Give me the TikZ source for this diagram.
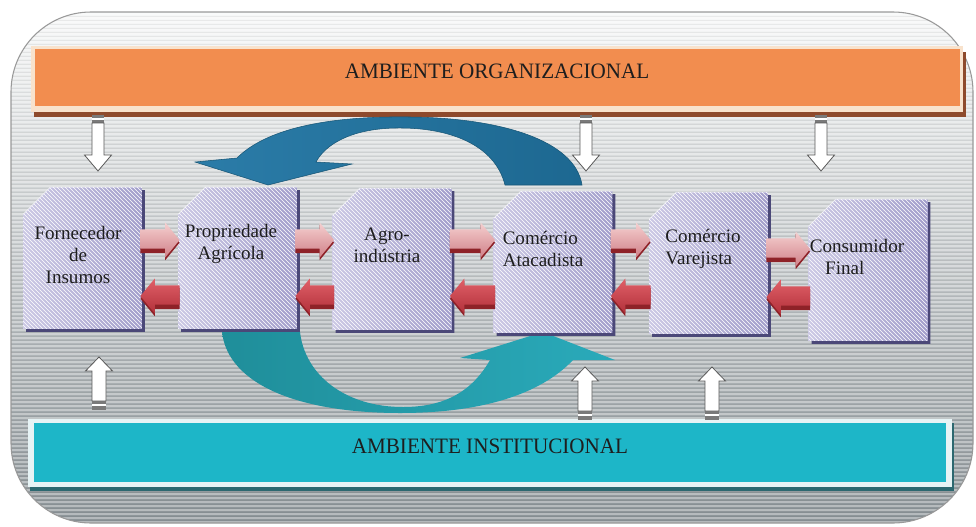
\documentclass[tikz,border=0pt]{standalone}
\usepackage{fontspec}
\setmainfont{Liberation Serif}
\newfontfamily\condserif[FakeStretch=0.96]{Liberation Serif}
\usetikzlibrary{calc,patterns}

\definecolor{bgtop}{HTML}{F7F8F8}
\definecolor{bgmid}{HTML}{C9CDCF}
\definecolor{bgbot}{HTML}{8C9498}
\definecolor{orgcol}{HTML}{F28D4F}
\definecolor{cream}{HTML}{F8E2CC}
\definecolor{orgshadow}{HTML}{8E4A2C}
\definecolor{instcol}{HTML}{1DB6C8}
\definecolor{instborder}{HTML}{E6F3F5}
\definecolor{instshadow}{HTML}{2C6870}
\definecolor{boxL}{HTML}{CBC8E4}
\definecolor{boxR}{HTML}{A29ECB}
\definecolor{boxshadow}{HTML}{4B4878}
\definecolor{txtcol}{HTML}{1E1E1E}
\definecolor{rtop}{HTML}{F5D0D0}
\definecolor{rbot}{HTML}{D08088}
\definecolor{rdark}{HTML}{8E2228}
\definecolor{ltop}{HTML}{E06068}
\definecolor{lbot}{HTML}{B2303A}
\definecolor{blueA}{HTML}{2B7CA8}
\definecolor{blueB}{HTML}{1D6891}
\definecolor{blueedge}{HTML}{175676}
\definecolor{tealA}{HTML}{1F8E9A}
\definecolor{tealB}{HTML}{2AAABA}
\definecolor{capgray}{HTML}{7A7A7A}

\tikzset{
  boxnode/.style={rectangle, minimum width=88.5pt, minimum height=105.75pt, inner sep=0pt},
  lbl/.style={font=\fontsize{14.3}{16.8}\selectfont, text=txtcol, align=center, inner sep=0pt},
  barlbl/.style={font=\condserif\fontsize{16.5}{18}\selectfont, text=txtcol, inner sep=0pt},
  rfill/.style={top color=rtop, bottom color=rbot},
  lfill/.style={top color=ltop, bottom color=lbot},
  darkfill/.style={fill=rdark},
  warrow/.style={fill=white, draw=black!65, line width=0.6pt, line join=miter},
}

% chamfered box drawn from the node's anchors
\newcommand\drawbox[1]{%
  \fill[boxshadow] ($(#1.south west)+(3,3)$) -- ($(#1.north west)+(3,30)$) -- ($(#1.north west)+(30,3)$)
     -- ($(#1.north east)+(3,3)$) -- ($(#1.south east)+(3,3)$) -- cycle;
  \shade[left color=boxL, right color=boxR] (#1.south west) -- ($(#1.north west)+(0,27)$) -- ($(#1.north west)+(27,0)$)
     -- (#1.north east) -- (#1.south east) -- cycle;
  \fill[pattern=north west lines, pattern color=white, fill opacity=0.08] (#1.south west) -- ($(#1.north west)+(0,27)$) -- ($(#1.north west)+(27,0)$)
     -- (#1.north east) -- (#1.south east) -- cycle;
  \draw[white, opacity=0.6, line width=0.6pt] ($(#1.north west)+(0,27)$) -- ($(#1.north west)+(27,0)$) -- (#1.north east);
}
% right-pointing block arrow between two boxes at height #3 (px)
\newcommand\rblock[3]{%
  \path[darkfill] let \p1=(#1.east), \p2=(#2.west), \p3=(0,#3) in
   (\x1-1pt,\y3+5.9pt) -- (\x2-9.75pt,\y3+5.9pt) -- (\x2-9.75pt,\y3+11.1pt) -- (\x2+1pt,\y3-2pt)
   -- (\x2-9.75pt,\y3-15.1pt) -- (\x2-9.75pt,\y3-9.9pt) -- (\x1-1pt,\y3-9.9pt) -- cycle;
  \path[rfill] let \p1=(#1.east), \p2=(#2.west), \p3=(0,#3) in
   (\x1-1pt,\y3+7.9pt) -- (\x2-9.75pt,\y3+7.9pt) -- (\x2-9.75pt,\y3+13.1pt) -- (\x2+1pt,\y3)
   -- (\x2-9.75pt,\y3-13.1pt) -- (\x2-9.75pt,\y3-6.4pt) -- (\x1-1pt,\y3-6.4pt) -- cycle;
}
% left-pointing block arrow
\newcommand\lblock[3]{%
  \path[fill=rdark] let \p1=(#1.east), \p2=(#2.west), \p3=(0,#3) in
   (\x2+1pt,\y3+5.9pt) -- (\x1+9.75pt,\y3+5.9pt) -- (\x1+9.75pt,\y3+11.1pt) -- (\x1-1pt,\y3-2pt)
   -- (\x1+9.75pt,\y3-15.1pt) -- (\x1+9.75pt,\y3-9.9pt) -- (\x2+1pt,\y3-9.9pt) -- cycle;
  \path[lfill] let \p1=(#1.east), \p2=(#2.west), \p3=(0,#3) in
   (\x2+1pt,\y3+7.9pt) -- (\x1+9.75pt,\y3+7.9pt) -- (\x1+9.75pt,\y3+13.1pt) -- (\x1-1pt,\y3)
   -- (\x1+9.75pt,\y3-13.1pt) -- (\x1+9.75pt,\y3-6.4pt) -- (\x2+1pt,\y3-6.4pt) -- cycle;
}
% white down arrow: x, ytop, ytip (px)
\newcommand\downarr[3]{%
  \fill[capgray] (#1-6,#2) rectangle (#1+6,#2+8);
  \draw[white, line width=0.9pt] (#1-6,#2+4) -- (#1+6,#2+4);
  \filldraw[warrow] (#1-6,#2+8) -- (#1+6,#2+8) -- (#1+6,#3-16) -- (#1+13.5,#3-16) -- (#1,#3)
     -- (#1-13.5,#3-16) -- (#1-6,#3-16) -- cycle;
}
% white up arrow: x, ybottom, ytip (px)
\newcommand\uparr[3]{%
  \fill[capgray] (#1-7,#2) rectangle (#1+7,#2-9);
  \draw[white, line width=0.9pt] (#1-7,#2-5) -- (#1+7,#2-5);
  \filldraw[warrow] (#1-7,#2-9) -- (#1+7,#2-9) -- (#1+7,#3+14) -- (#1+13.5,#3+14) -- (#1,#3)
     -- (#1-13.5,#3+14) -- (#1-7,#3+14) -- cycle;
}

\begin{document}
\begin{tikzpicture}[x=0.75pt, y=-0.75pt]
\useasboundingbox (0,0) rectangle (976,526);

% ---------- background panel ----------
\shade[top color=bgtop, middle color=bgmid, bottom color=bgbot, rounded corners=60pt]
  (11,12) rectangle (973,523);
\begin{scope}
  \clip[rounded corners=60pt] (11,12) rectangle (973,523);
  \foreach \yy in {14,18,...,522} {
    \draw[line width=0.8pt, white, opacity=0.35] (11,\yy) -- (973,\yy);
    \draw[line width=0.6pt, black, opacity=0.05] (11,\yy+2) -- (973,\yy+2);
  }
\end{scope}
\draw[black!40, line width=0.8pt, rounded corners=60pt] (11,12) rectangle (973,523);

% ---------- organisational environment bar ----------
\fill[orgshadow] (34,52) rectangle (966,117);
\fill[cream] (31,46) rectangle (963,112);
\node[fill=orgcol, anchor=north west, minimum width=693.75pt, minimum height=42.75pt, inner sep=0pt] (org) at (35,49) {};
\node[barlbl] (orgtxt) at (497,71) {AMBIENTE ORGANIZACIONAL};

% ---------- institutional environment bar ----------
\fill[instshadow] (30,423) rectangle (954,491);
\fill[instborder] (28,419) rectangle (952,487);
\node[fill=instcol, anchor=north west, minimum width=684pt, minimum height=44.25pt, inner sep=0pt] (inst) at (34,423) {};
\node[barlbl] (insttxt) at (490,446) {AMBIENTE INSTITUCIONAL};

% ---------- curved arrows (behind boxes) ----------
\shade[left color=blueA, right color=blueB, draw=blueedge, line width=0.4pt]
  (268,185) -- (195,162) -- (237,158) .. controls (270,125) and (340,116) .. (410,117)
  .. controls (500,118) and (575,140) .. (582,185) -- (505,185)
  .. controls (495,145) and (450,127) .. (395,128)
  .. controls (350,129) and (325,145) .. (316,162) -- (352,164) -- cycle;
\shade[left color=tealA, right color=tealB]
  (222,332) .. controls (228,385) and (300,413) .. (400,413)
  .. controls (480,413) and (540,395) .. (573,360) -- (615,360) -- (543,332) -- (460,358) -- (490,360)
  .. controls (470,395) and (440,407) .. (403,407)
  .. controls (345,407) and (305,375) .. (300,332) -- cycle;

% ---------- chain boxes ----------
\node[boxnode] (b1) at (82.5,258) {};
\node[boxnode] (b2) at (237.5,258) {};
\node[boxnode] (b3) at (392,259) {};
\node[boxnode] (b4) at (553,262) {};
\node[boxnode] (b5) at (708.5,263) {};
\node[boxnode] (b6) at (868,270) {};
\drawbox{b1}\drawbox{b2}\drawbox{b3}\drawbox{b4}\drawbox{b5}\drawbox{b6}

\node[lbl] (t1) at (78,255) {Fornecedor\\de\\Insumos};
\node[lbl] (t2) at (231,244) {Propriedade\\Agrícola};
\node[lbl] (t3) at (387,245) {Agro-\\indústria};
\node[lbl, align=left] (t4) at (543,249) {Comércio\\Atacadista};
\node[lbl, align=left] (t5) at (703,249) {Comércio\\Varejista};
\node[lbl, align=left] (t6) at (857,257) {Consumidor\\\hspace*{11.5pt}Final};

% ---------- flows between boxes ----------
\rblock{b1}{b2}{240}
\rblock{b2}{b3}{240}
\rblock{b3}{b4}{240}
\rblock{b4}{b5}{240}
\rblock{b5}{b6}{249}
\lblock{b1}{b2}{296}
\lblock{b2}{b3}{296}
\lblock{b3}{b4}{296}
\lblock{b4}{b5}{296}
\lblock{b5}{b6}{297}

% ---------- environment influences ----------
\downarr{98}{115}{171}
\downarr{586}{115}{171}
\downarr{821}{115}{171}
\uparr{99}{410}{357}
\uparr{585}{420}{367}
\uparr{712}{420}{367}
\end{tikzpicture}
\end{document}
